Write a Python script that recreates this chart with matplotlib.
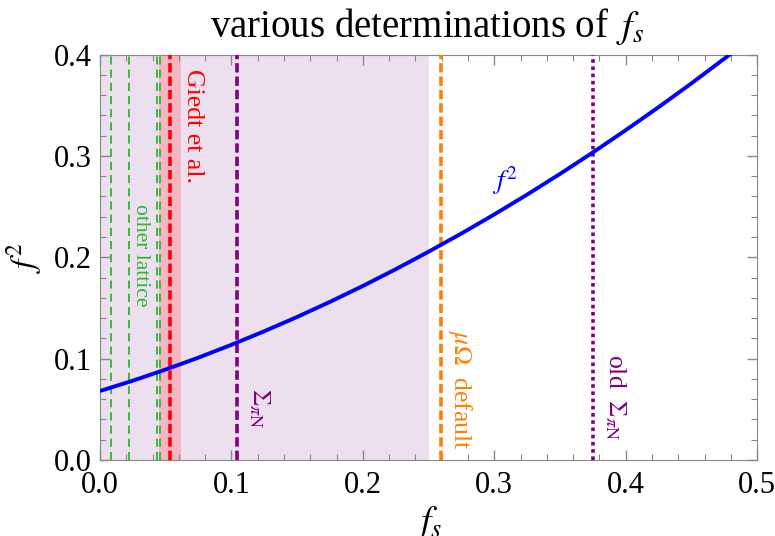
import matplotlib
matplotlib.use('Agg')
import matplotlib.pyplot as plt
from matplotlib.ticker import MultipleLocator

plt.rcParams['font.family'] = ['Liberation Serif', 'DejaVu Serif']
plt.rcParams['mathtext.fontset'] = 'stix'

# f^2 as a function of f_s
fs_vals = [0.0, 0.025, 0.05, 0.075, 0.10, 0.125, 0.15, 0.175, 0.20, 0.225,
           0.25, 0.275, 0.30, 0.325, 0.35, 0.375, 0.40, 0.425, 0.45, 0.48]
f2_vals = [0.068, 0.0782, 0.0892, 0.1010, 0.1136, 0.1270, 0.1411, 0.1560, 0.1717, 0.1882,
           0.2055, 0.2235, 0.2423, 0.2619, 0.2823, 0.3035, 0.3255, 0.3482, 0.3717, 0.4009]

# determinations of f_s
other_lattice = [0.0087, 0.022, 0.0436, 0.0456]
giedt = 0.053
giedt_band = (0.0447, 0.0617)
sigma_piN = 0.104
sigma_band = (0.0, 0.25)
mu_omega_default = 0.2595
old_sigma_piN = 0.375

fig = plt.figure(figsize=(7.75, 5.36), dpi=100)
ax = fig.add_axes([0.129, 0.142, 0.848, 0.756])

ax.axvspan(*sigma_band, color='#ecdfee', lw=0, zorder=0)
ax.axvspan(*giedt_band, color='#f4b6c2', lw=0, zorder=1)

for x in other_lattice:
    ax.axvline(x, color='#2fb52f', lw=1.3, ls=(0, (4.5, 2.8)), zorder=2)
ax.axvline(giedt, color='#ff0000', lw=2.6, ls=(0, (2.6, 1.1)), zorder=3)
ax.axvline(sigma_piN, color='#800080', lw=2.6, ls=(0, (2.6, 1.1)), zorder=3)
ax.axvline(mu_omega_default, color='#ff8000', lw=2.6, ls=(0, (2.6, 1.1)), zorder=3)
ax.axvline(old_sigma_piN, color='#800080', lw=2.6, ls=(0, (1, 1)), zorder=3)

ax.plot(fs_vals, f2_vals, color='#0000ff', lw=2.8, zorder=4, solid_capstyle='butt')

ax.text(0.071, 0.386, 'Giedt et al.', color='#ff0000', fontsize=18.5,
        rotation=-90, ha='center', va='top')
ax.text(0.0305, 0.253, 'other lattice', color='#2fb52f', fontsize=15.5,
        rotation=-90, ha='center', va='top')
ax.text(0.121, 0.071, r'$\Sigma_{\pi\mathrm{N}}$', color='#800080', fontsize=18.5,
        rotation=-90, ha='center', va='top')
ax.text(0.274, 0.128, r'$\mu\Omega$  default', color='#ff8000', fontsize=18.5,
        rotation=-90, ha='center', va='top')
ax.text(0.392, 0.105, r'old  $\Sigma_{\pi\mathrm{N}}$', color='#800080', fontsize=18.5,
        rotation=-90, ha='center', va='top')
ax.text(0.308, 0.276, r'$f^2$', color='#0000ff', fontsize=20, ha='center', va='center')

ax.set_xlim(0, 0.5)
ax.set_ylim(0, 0.4)
ax.xaxis.set_major_locator(MultipleLocator(0.1))
ax.xaxis.set_minor_locator(MultipleLocator(0.02))
ax.yaxis.set_major_locator(MultipleLocator(0.1))
ax.yaxis.set_minor_locator(MultipleLocator(0.02))
ax.tick_params(which='both', direction='in', top=True, right=True,
               color='#888888', labelsize=22)
ax.tick_params(axis='x', pad=8)
ax.tick_params(axis='y', pad=6)
ax.tick_params(which='major', length=7, width=1)
ax.tick_params(which='minor', length=4, width=0.8)
for s in ax.spines.values():
    s.set_color('#888888')

fig.text(0.551, 0.931, r'various determinations of $\,f_s$', fontsize=28,
         ha='center', va='baseline')
ax.set_xlabel(r'$f_s$', fontsize=27)
ax.xaxis.set_label_coords(0.5, -0.11)
ax.set_ylabel(r'$f^2$', fontsize=24)
ax.yaxis.set_label_coords(-0.085, 0.5)

fig.savefig('out.png', dpi=100)
